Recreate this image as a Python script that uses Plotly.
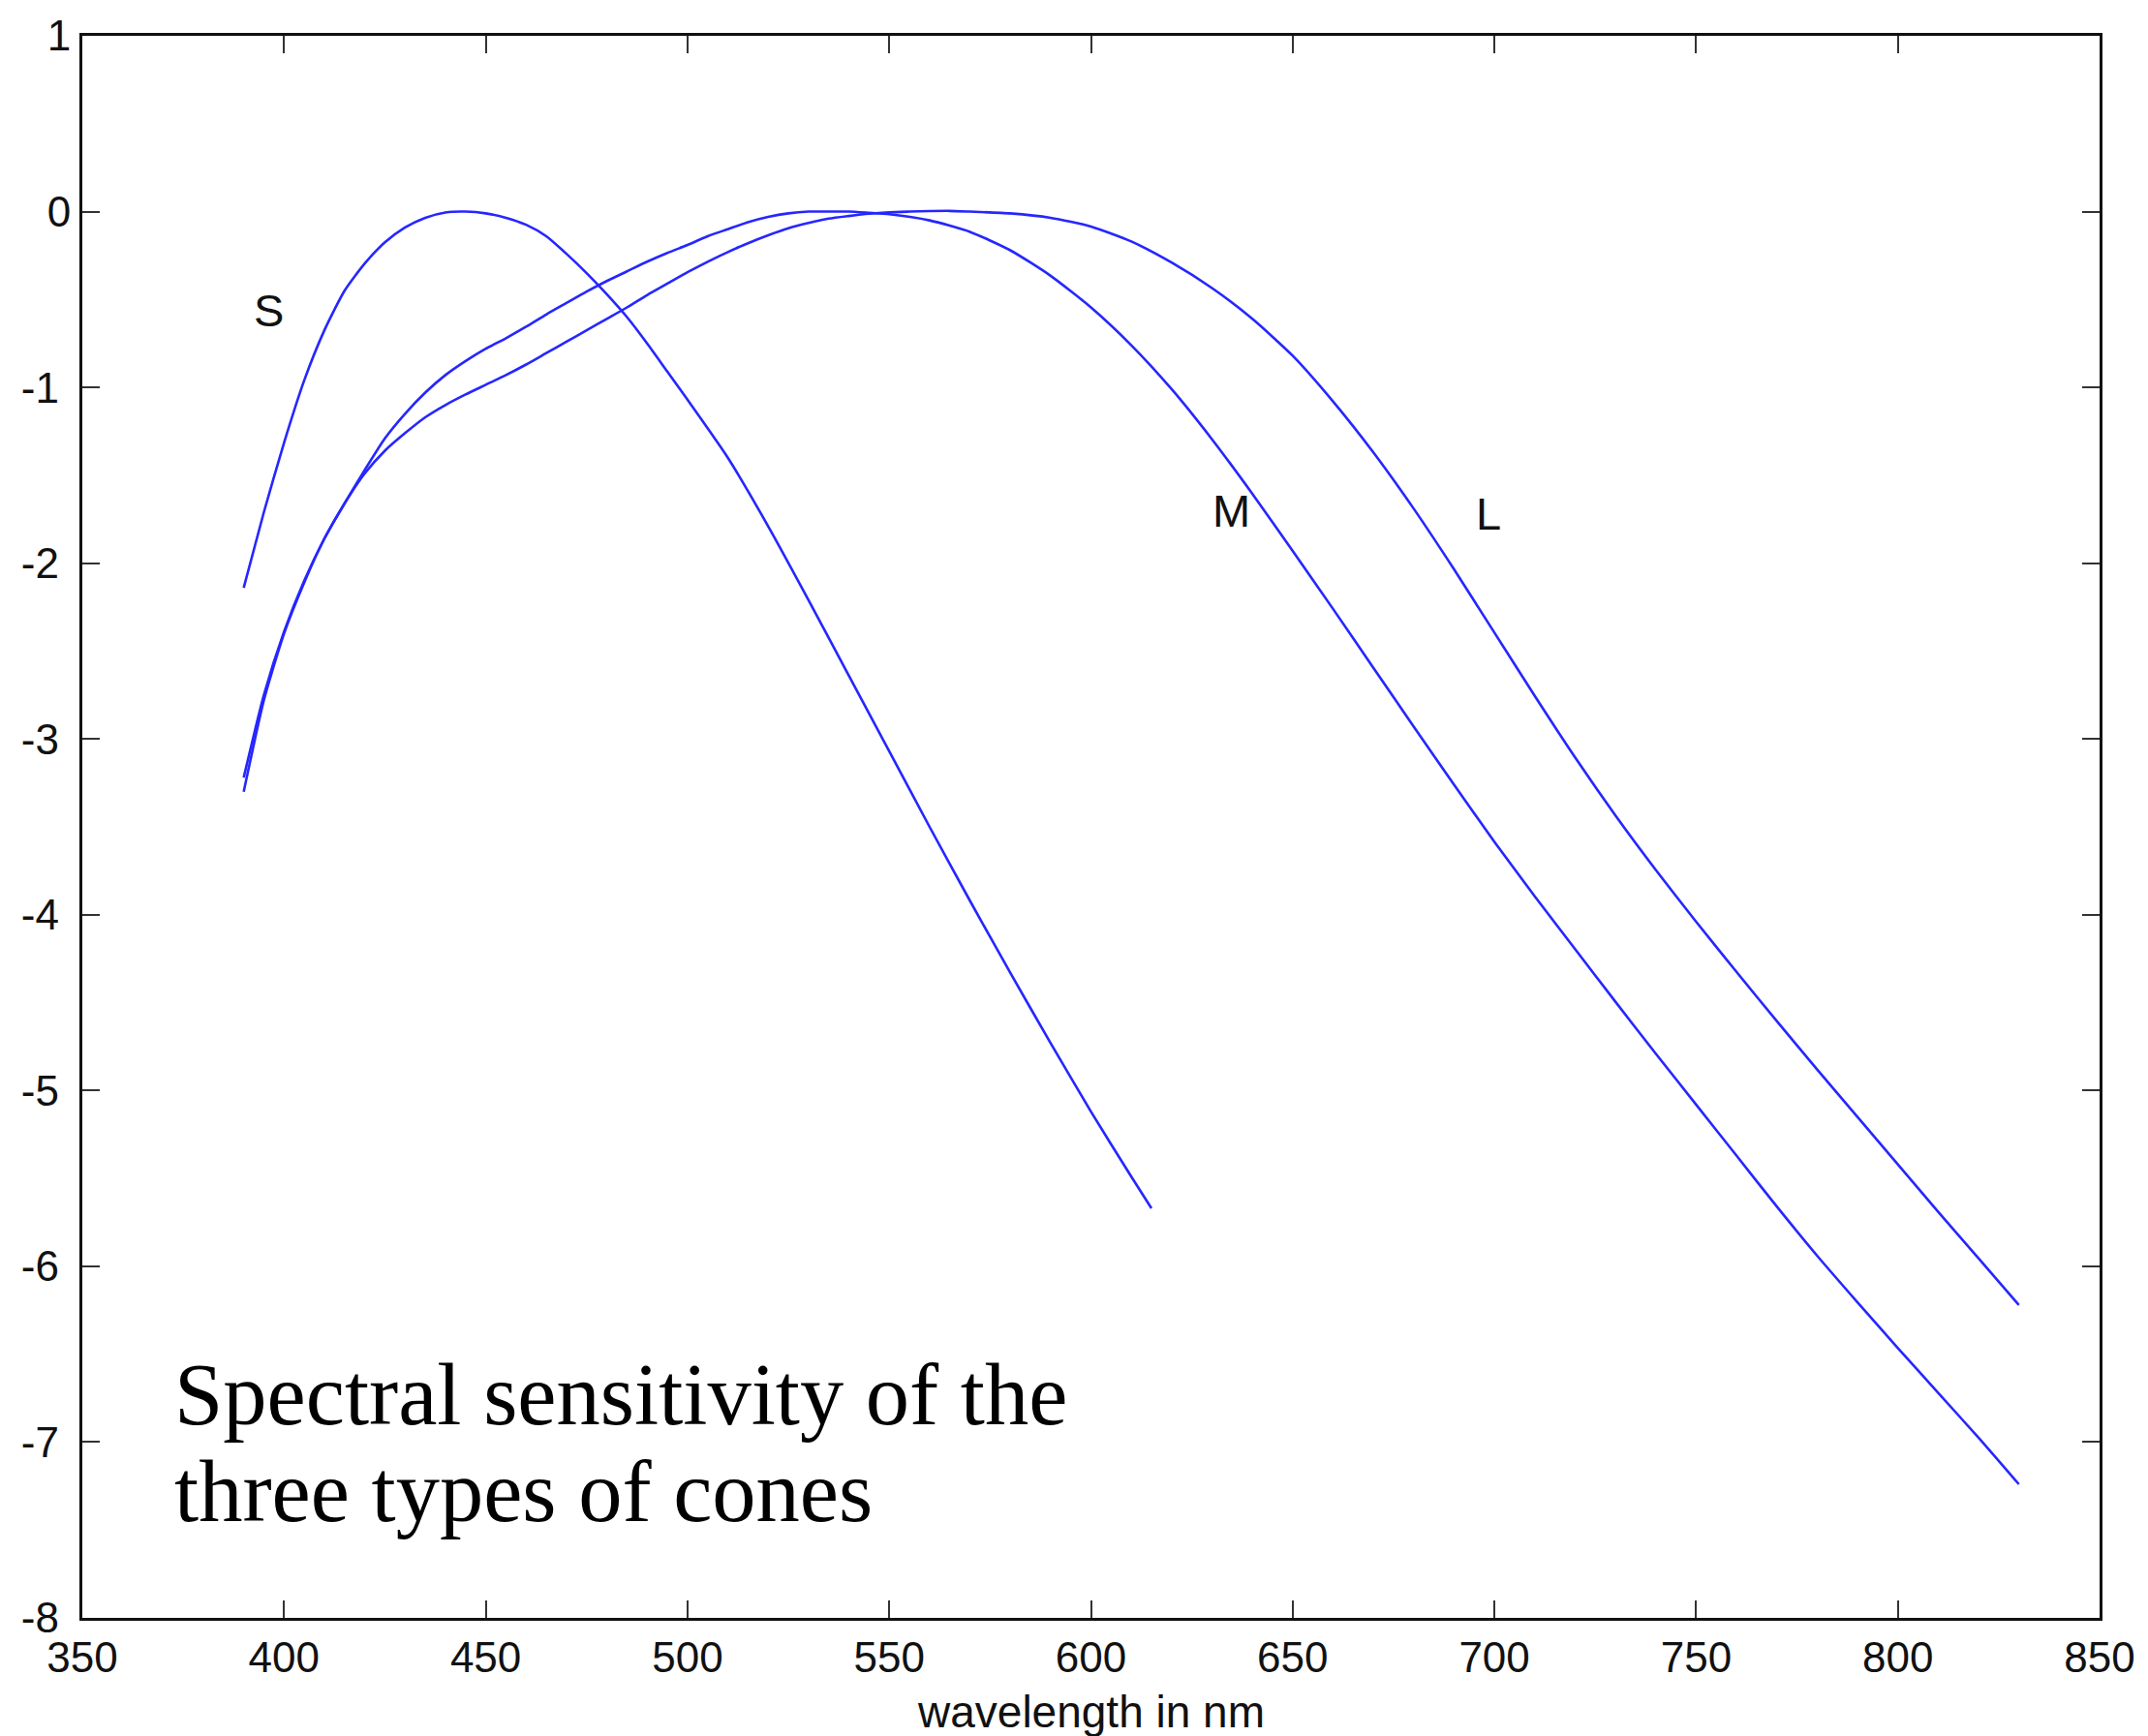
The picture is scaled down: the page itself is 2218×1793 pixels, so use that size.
import plotly.graph_objects as go

# ---------------- data ----------------
s_wl = [390, 395, 400, 405, 410, 415, 420, 425, 430, 435, 440, 445, 450, 455, 460, 465,
        470, 475, 480, 485, 490, 495, 500, 510, 520, 530, 540, 550, 560, 570, 580, 590,
        600, 610, 615]
s_val = [-2.14, -1.71, -1.315, -0.96, -0.675, -0.45, -0.295, -0.175, -0.09, -0.035, -0.005,
         0.0, -0.01, -0.035, -0.075, -0.14, -0.24, -0.35, -0.47, -0.60, -0.75, -0.91, -1.07,
         -1.40, -1.79, -2.21, -2.64, -3.07, -3.50, -3.92, -4.33, -4.73, -5.12, -5.49, -5.67]

m_wl = [390, 395, 400, 405, 410, 415, 420, 425, 430, 435, 440, 445, 450, 455, 460, 465,
        470, 475, 480, 485, 490, 495, 500, 505, 510, 515, 520, 525, 530, 535, 540, 545,
        550, 560, 570, 580, 590, 600, 610, 620, 630, 640, 650, 660, 670, 680, 690, 700,
        710, 720, 730, 740, 750, 760, 770, 780, 790, 800, 810, 820, 830]
m_val = [-3.30, -2.78, -2.40, -2.11, -1.86, -1.66, -1.47, -1.29, -1.15, -1.03, -0.93, -0.85,
         -0.78, -0.72, -0.655, -0.585, -0.52, -0.455, -0.395, -0.34, -0.285, -0.235, -0.19,
         -0.14, -0.10, -0.06, -0.03, -0.01, 0.0, 0.0, 0.0, -0.007, -0.015, -0.05, -0.115,
         -0.22, -0.365, -0.545, -0.76, -1.01, -1.295, -1.605, -1.93, -2.26, -2.595, -2.93,
         -3.26, -3.585, -3.895, -4.195, -4.495, -4.79, -5.08, -5.37, -5.66, -5.94, -6.205,
         -6.465, -6.72, -6.975, -7.24]

l_wl = [390, 395, 400, 405, 410, 415, 420, 425, 430, 435, 440, 445, 450, 455, 460, 465,
        470, 475, 480, 485, 490, 495, 500, 505, 510, 515, 520, 525, 530, 535, 540, 545,
        550, 555, 560, 565, 570, 580, 590, 600, 610, 620, 630, 640, 650, 660, 670, 680,
        690, 700, 710, 720, 730, 740, 750, 760, 770, 780, 790, 800, 810, 820, 830]
l_val = [-3.22, -2.75, -2.39, -2.10, -1.86, -1.66, -1.49, -1.36, -1.26, -1.17, -1.10, -1.04,
         -0.985, -0.93, -0.87, -0.805, -0.74, -0.675, -0.61, -0.545, -0.475, -0.41, -0.345,
         -0.285, -0.23, -0.18, -0.135, -0.095, -0.065, -0.04, -0.025, -0.012, -0.004, 0.0,
         0.003, 0.004, 0.0, -0.01, -0.035, -0.085, -0.17, -0.29, -0.435, -0.61, -0.82,
         -1.08, -1.37, -1.69, -2.035, -2.395, -2.755, -3.105, -3.435, -3.745, -4.04, -4.325,
         -4.605, -4.88, -5.15, -5.42, -5.69, -5.955, -6.22]

x_ticks = [350, 400, 450, 500, 550, 600, 650, 700, 750, 800, 850]
y_ticks = [1, 0, -1, -2, -3, -4, -5, -6, -7, -8]

curve_labels = ["S", "M", "L"]
x_title = "wavelength in nm"
caption_lines = ["Spectral sensitivity of the", "three types of cones"]

# ---------------- figure ----------------
W, H = 2218, 1793
L_M, R_M, T_M, B_M = 85, 50, 30, 122

line_style = dict(color="#2626ff", width=2.6, shape="spline", smoothing=0.6)

fig = go.Figure()
fig.add_trace(go.Scatter(x=s_wl, y=s_val, mode="lines", line=line_style, name="S"))
fig.add_trace(go.Scatter(x=m_wl, y=m_val, mode="lines", line=line_style, name="M"))
fig.add_trace(go.Scatter(x=l_wl, y=l_val, mode="lines", line=line_style, name="L"))

sans = "Liberation Sans, Arial, Helvetica, sans-serif"
serif = "Liberation Serif, Times New Roman, serif"

axis_common = dict(
    showgrid=False, zeroline=False, showline=True, linecolor="#111", linewidth=3,
    mirror="ticks", ticks="inside", ticklen=18, tickwidth=2, tickcolor="#333",
    tickfont=dict(family=sans, size=44, color="#111"),
)

fig.update_xaxes(range=[350, 850], tickmode="array", tickvals=x_ticks,
                 ticktext=[str(v) for v in x_ticks], **axis_common)
# negative labels sit a little further left in the reference (non-breaking space pad)
fig.update_yaxes(range=[-8, 1], tickmode="array", tickvals=y_ticks,
                 ticktext=[(str(v) + "\u00a0") if v < 0 else str(v) for v in y_ticks],
                 **axis_common)

annotations = []
# curve labels
for txt, (ax, ay) in zip(curve_labels, [(396.2, -0.56), (634.7, -1.70), (698.6, -1.72)]):
    annotations.append(dict(x=ax, y=ay, xref="x", yref="y", text=txt, showarrow=False,
                            font=dict(family=sans, size=47, color="#111"),
                            xanchor="center", yanchor="middle"))
# axis title
annotations.append(dict(x=0.5, y=-(1768 - 1671) / (H - T_M - B_M), xref="paper", yref="paper",
                        text=x_title, showarrow=False,
                        font=dict(family=sans, size=46, color="#111"),
                        xanchor="center", yanchor="middle"))
# caption
for txt, cy in zip(caption_lines, [-6.733, -7.282]):
    annotations.append(dict(x=372.4, y=cy, xref="x", yref="y", text=txt, showarrow=False,
                            font=dict(family=serif, size=90.5, color="black"),
                            xanchor="left", yanchor="middle"))

fig.update_layout(
    width=W, height=H, autosize=False,
    margin=dict(l=L_M, r=R_M, t=T_M, b=B_M, pad=0),
    paper_bgcolor="white", plot_bgcolor="white",
    showlegend=False,
    annotations=annotations,
)

fig.write_html("out.html",
               config={"displayModeBar": False},
               post_script="document.body.style.margin='0px';document.body.style.overflow='hidden';")
